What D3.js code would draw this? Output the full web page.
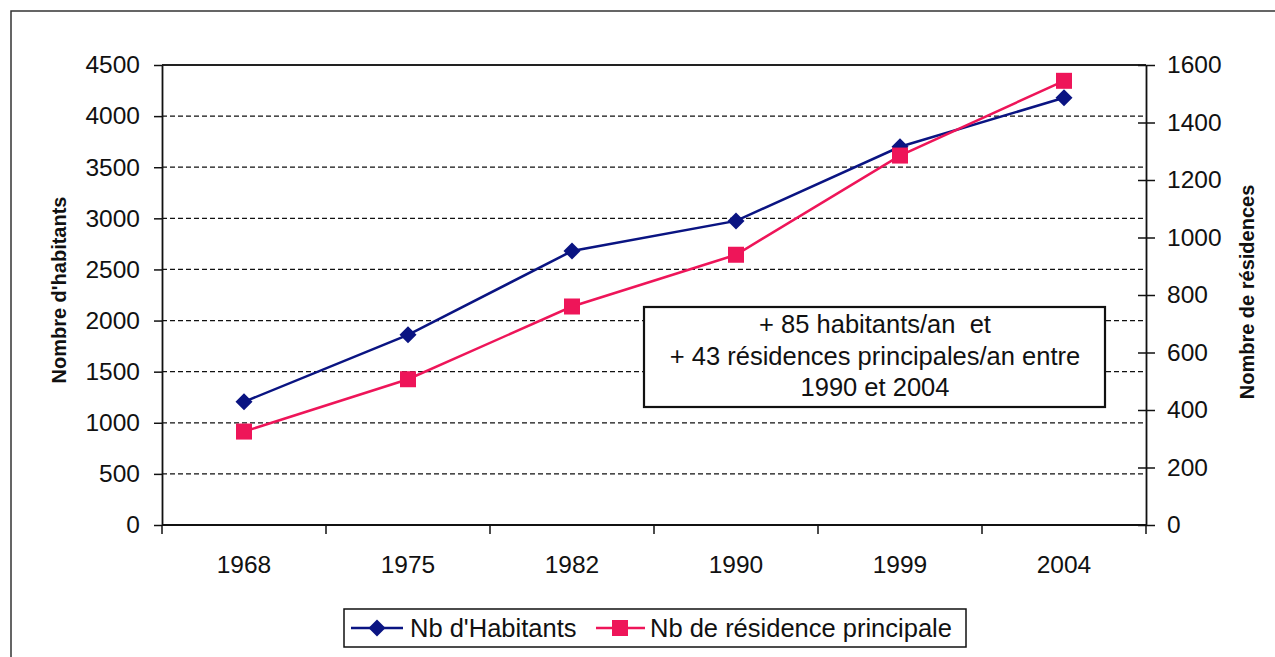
<!DOCTYPE html>
<html>
<head>
<meta charset="utf-8">
<script src="https://cdn.jsdelivr.net/npm/d3@7"></script>
<style>
  html, body { margin: 0; padding: 0; background: #fff; }
  svg { display: block; font-family: "Liberation Sans", Arial, sans-serif; }
</style>
</head>
<body>
<svg id="chart" width="1275" height="657"></svg>
<script>
// Population and main residences by census year
const years = ["1968", "1975", "1982", "1990", "1999", "2004"];
const habitants = [1205, 1860, 2680, 2975, 3700, 4180];
const residences = [325, 507, 760, 940, 1285, 1545];
const leftTicks = [0, 500, 1000, 1500, 2000, 2500, 3000, 3500, 4000, 4500];
const rightTicks = [0, 200, 400, 600, 800, 1000, 1200, 1400, 1600];
const seriesNames = ["Nb d'Habitants", "Nb de résidence principale"];
const noteLines = ["+ 85 habitants/an  et", "+ 43 résidences principales/an entre", "1990 et 2004"];

const blue = "#0a1482";
const red = "#ee1559";

const svg = d3.select("#chart");
const plot = { left: 162, right: 1146, top: 65, bottom: 525 };

// Outer frame
svg.append("rect").attr("x", 11).attr("y", 11).attr("width", 1300).attr("height", 700)
  .attr("fill", "#fff").attr("stroke", "#333").attr("stroke-width", 1.5);

const x = d3.scaleBand().domain(years).range([plot.left, plot.right]).padding(0);
const yL = d3.scaleLinear().domain([0, 4500]).range([plot.bottom, plot.top]);
const yR = d3.scaleLinear().domain([0, 1600]).range([plot.bottom, plot.top]);

// Dashed gridlines
svg.append("g").selectAll("line")
  .data(leftTicks.filter(d => d > 0 && d < 4500))
  .join("line")
  .attr("x1", plot.left).attr("x2", plot.right)
  .attr("y1", d => yL(d)).attr("y2", d => yL(d))
  .attr("stroke", "#111").attr("stroke-width", 1.2).attr("stroke-dasharray", "5,3");

// Top border of plot
svg.append("line").attr("x1", plot.left).attr("x2", plot.right)
  .attr("y1", yL(4500)).attr("y2", yL(4500))
  .attr("stroke", "#222").attr("stroke-width", 1.8);

// Left axis
const gL = svg.append("g").attr("transform", `translate(${plot.left},0)`)
  .call(d3.axisLeft(yL).tickValues(leftTicks).tickSize(8).tickSizeOuter(0).tickPadding(14).tickFormat(d3.format("d")));
gL.select(".domain").attr("stroke", "#111").attr("stroke-width", 1.8);
gL.selectAll(".tick line").attr("stroke", "#111").attr("stroke-width", 1.5);
gL.selectAll(".tick text").attr("font-size", 24.5).attr("fill", "#111")
  .attr("font-family", "Liberation Sans, Arial, sans-serif");

// Right axis with crossing ticks
const gR = svg.append("g").attr("transform", `translate(${plot.right},0)`)
  .call(d3.axisRight(yR).tickValues(rightTicks).tickSize(9).tickSizeOuter(0).tickPadding(12).tickFormat(d3.format("d")));
gR.select(".domain").attr("stroke", "#111").attr("stroke-width", 1.8);
gR.selectAll(".tick line").attr("x1", -8).attr("stroke", "#111").attr("stroke-width", 1.5);
gR.selectAll(".tick text").attr("font-size", 24.5).attr("fill", "#111")
  .attr("font-family", "Liberation Sans, Arial, sans-serif");

// Category axis: ticks between categories, labels centred
const gX = svg.append("g");
gX.append("line").attr("x1", plot.left).attr("x2", plot.right)
  .attr("y1", plot.bottom).attr("y2", plot.bottom)
  .attr("stroke", "#111").attr("stroke-width", 1.8);
const bounds = years.map(d => x(d)).concat([x(years[years.length - 1]) + x.bandwidth()]);
gX.selectAll("line.tk").data(bounds).join("line").attr("class", "tk")
  .attr("x1", d => d).attr("x2", d => d)
  .attr("y1", plot.bottom).attr("y2", plot.bottom + 9)
  .attr("stroke", "#111").attr("stroke-width", 1.5);
gX.selectAll("text").data(years).join("text")
  .attr("x", d => x(d) + x.bandwidth() / 2).attr("y", 573)
  .attr("text-anchor", "middle").attr("font-size", 24.5).attr("fill", "#111")
  .text(d => d);

// Axis titles
svg.append("text").attr("transform", "translate(66,290) rotate(-90)")
  .attr("text-anchor", "middle").attr("font-size", 20).attr("font-weight", "bold").attr("fill", "#111")
  .text("Nombre d'habitants");
svg.append("text").attr("transform", "translate(1254,292) rotate(-90)")
  .attr("text-anchor", "middle").attr("font-size", 20).attr("font-weight", "bold").attr("fill", "#111")
  .text("Nombre de résidences");

const cx = d => x(d) + x.bandwidth() / 2;

// Habitants series (left scale)
svg.append("path").datum(habitants)
  .attr("fill", "none").attr("stroke", blue).attr("stroke-width", 2.5)
  .attr("d", d3.line().x((d, i) => cx(years[i])).y(d => yL(d)));
// Residences series (right scale)
svg.append("path").datum(residences)
  .attr("fill", "none").attr("stroke", red).attr("stroke-width", 2.5)
  .attr("d", d3.line().x((d, i) => cx(years[i])).y(d => yR(d)));

const diamond = (px, py, r) => `M${px},${py - r}L${px + r},${py}L${px},${py + r}L${px - r},${py}Z`;

svg.append("g").selectAll("path").data(habitants).join("path")
  .attr("d", (d, i) => diamond(cx(years[i]), yL(d), 8.5))
  .attr("fill", blue);
svg.append("g").selectAll("rect").data(residences).join("rect")
  .attr("x", (d, i) => cx(years[i]) - 8).attr("y", d => yR(d) - 8)
  .attr("width", 16).attr("height", 16)
  .attr("fill", red);

// Annotation box
const note = svg.append("g");
note.append("rect").attr("x", 644).attr("y", 307).attr("width", 461).attr("height", 100)
  .attr("fill", "#fff").attr("stroke", "#111").attr("stroke-width", 2.2);
note.selectAll("text").data(noteLines).join("text")
  .attr("x", 875).attr("y", (d, i) => 333 + i * 31.5)
  .attr("text-anchor", "middle").attr("font-size", 25.5).attr("fill", "#111")
  .style("white-space", "pre")
  .text(d => d);

// Legend
const leg = svg.append("g");
leg.append("rect").attr("x", 344).attr("y", 609).attr("width", 622).attr("height", 38)
  .attr("fill", "#fff").attr("stroke", "#111").attr("stroke-width", 1.5);
leg.append("line").attr("x1", 351).attr("x2", 403).attr("y1", 628).attr("y2", 628)
  .attr("stroke", blue).attr("stroke-width", 2.5);
leg.append("path").attr("d", diamond(377, 628, 8.5)).attr("fill", blue);
leg.append("text").attr("x", 410).attr("y", 637).attr("font-size", 25.5).attr("fill", "#111")
  .text(seriesNames[0]);
leg.append("line").attr("x1", 596).attr("x2", 645).attr("y1", 628).attr("y2", 628)
  .attr("stroke", red).attr("stroke-width", 2.5);
leg.append("rect").attr("x", 612).attr("y", 620).attr("width", 16).attr("height", 16).attr("fill", red);
leg.append("text").attr("x", 650).attr("y", 637).attr("font-size", 25.5).attr("fill", "#111")
  .text(seriesNames[1]);
</script>
</body>
</html>
